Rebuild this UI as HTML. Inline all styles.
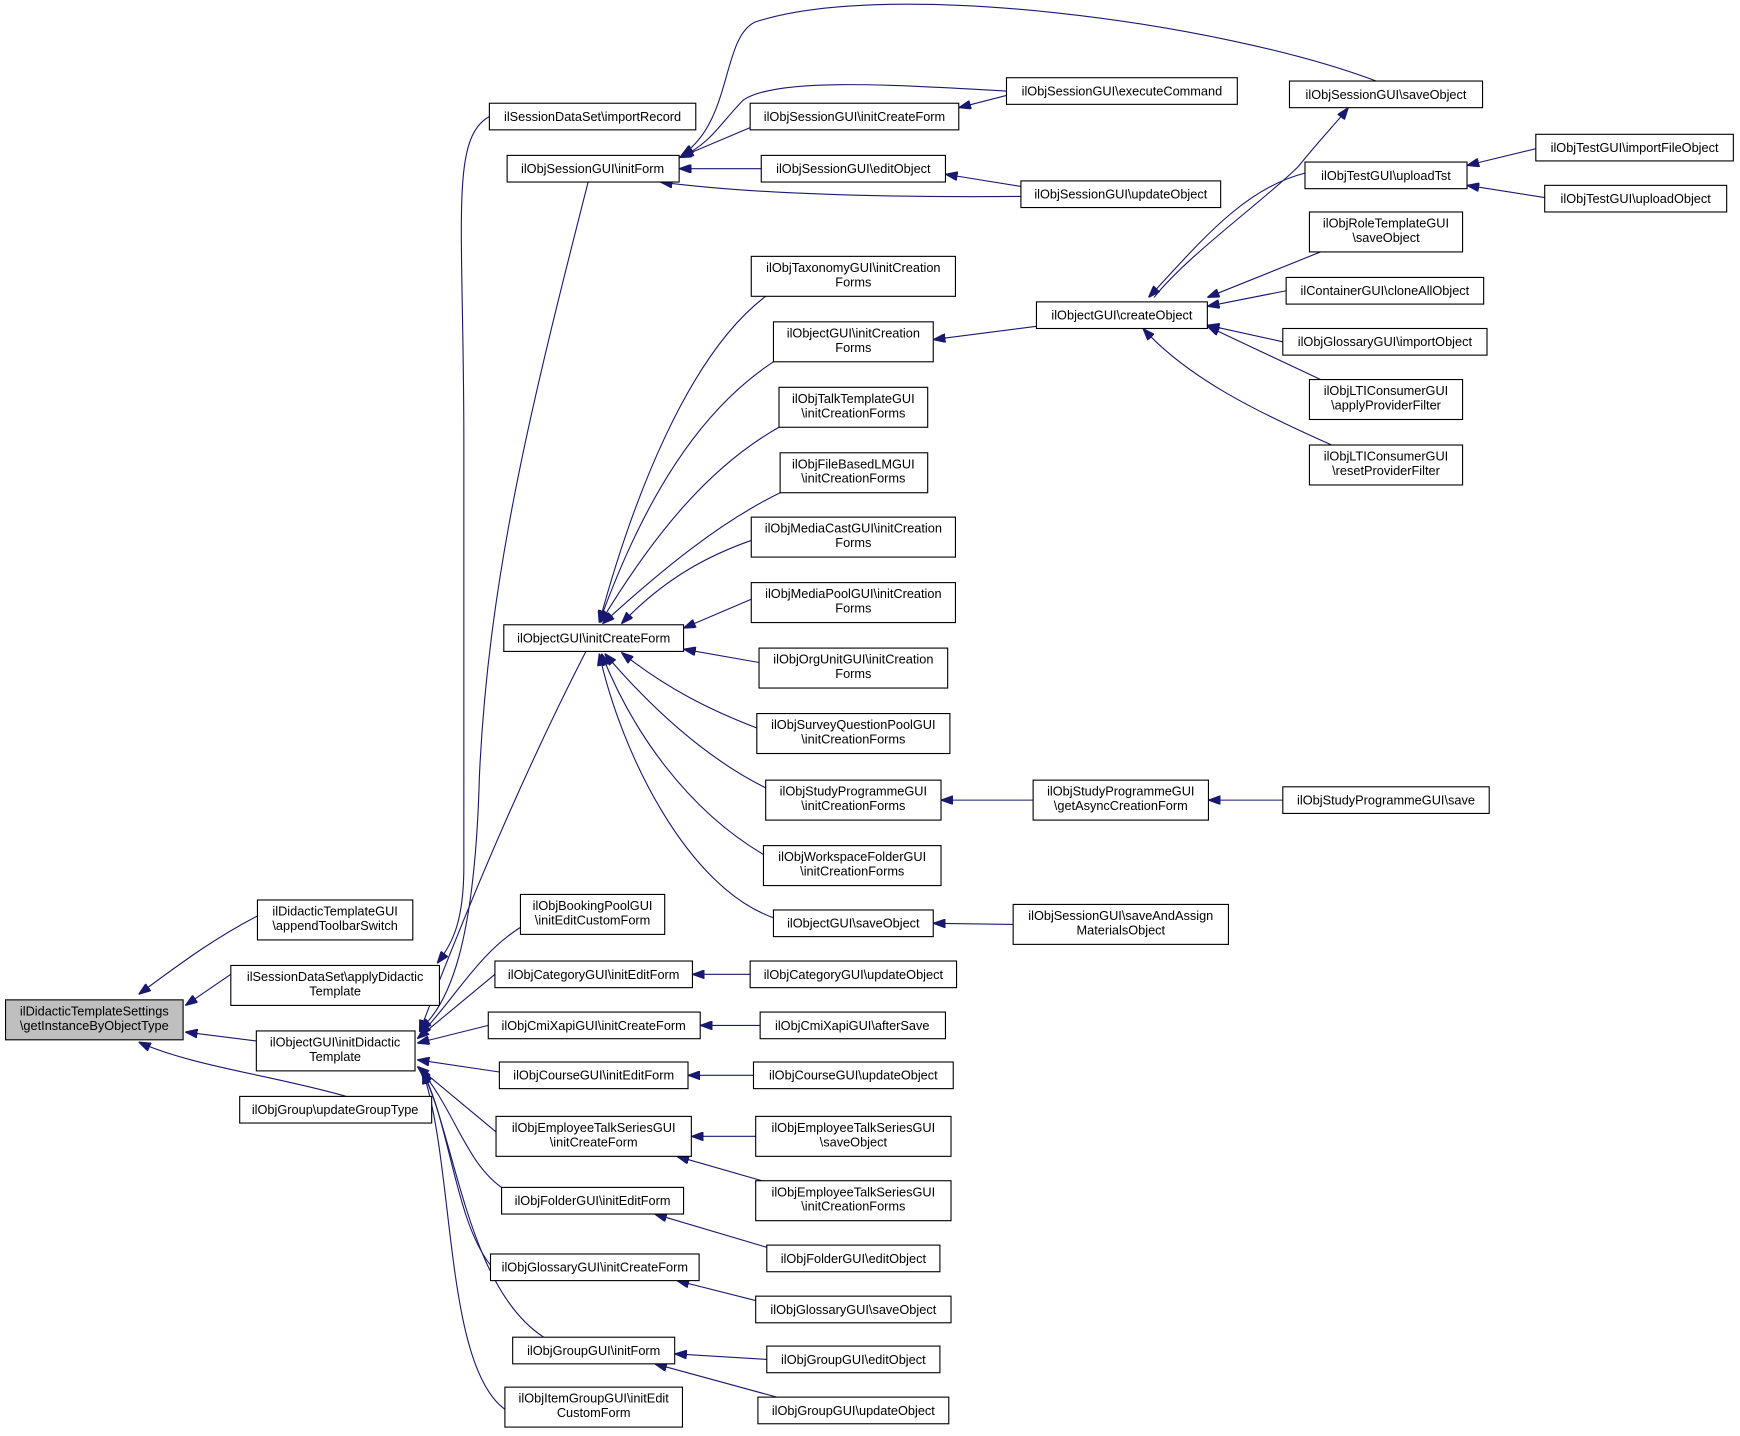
<!DOCTYPE html>
<html><head><meta charset="utf-8"><style>
html,body{margin:0;padding:0;background:#fff;}
svg{display:block}
text{font-family:"Liberation Sans",sans-serif;font-size:11.5px;fill:#000}
rect{fill:#fff;stroke:#000;stroke-width:1}
path{fill:none;stroke:#191970;stroke-width:1}
</style></head><body>
<svg width="1740" height="1436" viewBox="0 0 1568 1294" xmlns="http://www.w3.org/2000/svg">
<defs><marker id="a" markerWidth="11" markerHeight="8" refX="11" refY="4" orient="auto" markerUnits="userSpaceOnUse"><path d="M0,0 L11,4 L0,8 z" style="fill:#191970;stroke:#191970"/></marker></defs>
<g marker-end="url(#a)">
<path d="M243,820 C200,840 160,870 125,896"/>
<path d="M208,878 L167,906"/>
<path d="M231,938 L167,930"/>
<path d="M312,988 C250,970 170,960 125,939"/>
<path d="M441,105 C405,125 418,200 418,400 L418,780 C418,830 408,850 394,868"/>
<path d="M530,164 C480,360 440,520 432,700 C428,850 405,905 378,928"/>
<path d="M528,587 C470,700 420,820 378,930"/>
<path d="M470,835 C430,860 410,900 378,933"/>
<path d="M446,878 L376,936"/>
<path d="M440,924 L376,940"/>
<path d="M450,966 L376,955"/>
<path d="M447,1020 L376,961"/>
<path d="M455,1072 C420,1050 410,1000 378,963"/>
<path d="M442,1140 C410,1100 405,1010 380,964"/>
<path d="M490,1205 C420,1160 410,1020 380,965"/>
<path d="M455,1270 C400,1230 410,1050 381,966"/>
<path d="M1240,73 C1100,20 800,-20 680,20 C650,35 660,110 614,140"/>
<path d="M907,82 C800,76 700,70 670,90 C650,110 640,130 614,141"/>
<path d="M676,115 L612,142"/>
<path d="M686,152 L612,152"/>
<path d="M920,177 C800,178 680,175 595,164"/>
<path d="M907,86 L864,97"/>
<path d="M920,168 L852,157"/>
<path d="M1040,268 C1070,230 1140,180 1170,150 C1190,125 1205,110 1215,97"/>
<path d="M1176,156 C1120,170 1080,220 1035,268"/>
<path d="M1190,227 L1088,268"/>
<path d="M1159,262 L1088,276"/>
<path d="M1156,308 L1088,293"/>
<path d="M1190,342 L1088,294"/>
<path d="M1200,401 C1130,370 1070,340 1030,296"/>
<path d="M1384,134 L1322,149"/>
<path d="M1392,178 L1322,167"/>
<path d="M934,294 L841,306"/>
<path d="M690,267 C620,320 570,450 540,561"/>
<path d="M697,326 C630,370 580,450 540,561"/>
<path d="M702,385 C640,420 590,480 541,561"/>
<path d="M703,444 C650,470 600,510 543,562"/>
<path d="M677,487 C640,500 600,520 560,562"/>
<path d="M677,540 L616,566"/>
<path d="M684,597 L616,585"/>
<path d="M682,656 C640,640 600,620 560,588"/>
<path d="M690,710 C630,680 580,630 545,589"/>
<path d="M688,770 C620,730 570,660 542,589"/>
<path d="M697,827 C620,800 560,680 540,589"/>
<path d="M931,721 L848,721"/>
<path d="M1156,721 L1089,721"/>
<path d="M913,833 L841,832"/>
<path d="M676,878 L624,878"/>
<path d="M685,924 L631,924"/>
<path d="M679,969 L620,969"/>
<path d="M681,1024 L623,1024"/>
<path d="M690,1065 L610,1042"/>
<path d="M691,1124 L590,1094"/>
<path d="M681,1172 L610,1154"/>
<path d="M691,1225 L608,1220"/>
<path d="M700,1259 L590,1229"/>
</g>
<g>
<rect x="5" y="901" width="160" height="36" style="fill:#bfbfbf"/><text x="85" y="915" text-anchor="middle">ilDidacticTemplateSettings</text><text x="85" y="928" text-anchor="middle">\getInstanceByObjectType</text>
<rect x="232" y="811" width="140" height="36"/><text x="302" y="825" text-anchor="middle">ilDidacticTemplateGUI</text><text x="302" y="838" text-anchor="middle">\appendToolbarSwitch</text>
<rect x="208" y="870" width="188" height="36"/><text x="302" y="884" text-anchor="middle">ilSessionDataSet\applyDidactic</text><text x="302" y="897" text-anchor="middle">Template</text>
<rect x="231" y="929" width="143" height="36"/><text x="302" y="943" text-anchor="middle">ilObjectGUI\initDidactic</text><text x="302" y="956" text-anchor="middle">Template</text>
<rect x="216" y="988" width="173" height="24"/><text x="302" y="1004" text-anchor="middle">ilObjGroup\updateGroupType</text>

<rect x="441" y="93" width="186" height="24"/><text x="534" y="109" text-anchor="middle">ilSessionDataSet\importRecord</text>
<rect x="457" y="140" width="155" height="24"/><text x="534" y="156" text-anchor="middle">ilObjSessionGUI\initForm</text>
<rect x="454" y="563" width="162" height="24"/><text x="535" y="579" text-anchor="middle">ilObjectGUI\initCreateForm</text>
<rect x="469" y="806" width="130" height="36"/><text x="534" y="820" text-anchor="middle">ilObjBookingPoolGUI</text><text x="534" y="833" text-anchor="middle">\initEditCustomForm</text>
<rect x="446" y="866" width="178" height="24"/><text x="535" y="882" text-anchor="middle">ilObjCategoryGUI\initEditForm</text>
<rect x="440" y="912" width="191" height="24"/><text x="535" y="928" text-anchor="middle">ilObjCmiXapiGUI\initCreateForm</text>
<rect x="450" y="957" width="170" height="24"/><text x="535" y="973" text-anchor="middle">ilObjCourseGUI\initEditForm</text>
<rect x="447" y="1006" width="176" height="36"/><text x="535" y="1020" text-anchor="middle">ilObjEmployeeTalkSeriesGUI</text><text x="535" y="1033" text-anchor="middle">\initCreateForm</text>
<rect x="452" y="1070" width="164" height="24"/><text x="534" y="1086" text-anchor="middle">ilObjFolderGUI\initEditForm</text>
<rect x="442" y="1130" width="188" height="24"/><text x="536" y="1146" text-anchor="middle">ilObjGlossaryGUI\initCreateForm</text>
<rect x="462" y="1205" width="146" height="24"/><text x="535" y="1221" text-anchor="middle">ilObjGroupGUI\initForm</text>
<rect x="455" y="1250" width="160" height="36"/><text x="535" y="1264" text-anchor="middle">ilObjItemGroupGUI\initEdit</text><text x="535" y="1277" text-anchor="middle">CustomForm</text>

<rect x="676" y="93" width="188" height="24"/><text x="770" y="109" text-anchor="middle">ilObjSessionGUI\initCreateForm</text>
<rect x="686" y="140" width="166" height="24"/><text x="769" y="156" text-anchor="middle">ilObjSessionGUI\editObject</text>
<rect x="677" y="231" width="184" height="36"/><text x="769" y="245" text-anchor="middle">ilObjTaxonomyGUI\initCreation</text><text x="769" y="258" text-anchor="middle">Forms</text>
<rect x="697" y="290" width="144" height="36"/><text x="769" y="304" text-anchor="middle">ilObjectGUI\initCreation</text><text x="769" y="317" text-anchor="middle">Forms</text>
<rect x="702" y="349" width="134" height="36"/><text x="769" y="363" text-anchor="middle">ilObjTalkTemplateGUI</text><text x="769" y="376" text-anchor="middle">\initCreationForms</text>
<rect x="703" y="408" width="133" height="36"/><text x="769" y="422" text-anchor="middle">ilObjFileBasedLMGUI</text><text x="769" y="435" text-anchor="middle">\initCreationForms</text>
<rect x="677" y="466" width="184" height="36"/><text x="769" y="480" text-anchor="middle">ilObjMediaCastGUI\initCreation</text><text x="769" y="493" text-anchor="middle">Forms</text>
<rect x="677" y="525" width="184" height="36"/><text x="769" y="539" text-anchor="middle">ilObjMediaPoolGUI\initCreation</text><text x="769" y="552" text-anchor="middle">Forms</text>
<rect x="684" y="584" width="170" height="36"/><text x="769" y="598" text-anchor="middle">ilObjOrgUnitGUI\initCreation</text><text x="769" y="611" text-anchor="middle">Forms</text>
<rect x="682" y="643" width="174" height="36"/><text x="769" y="657" text-anchor="middle">ilObjSurveyQuestionPoolGUI</text><text x="769" y="670" text-anchor="middle">\initCreationForms</text>
<rect x="690" y="703" width="158" height="36"/><text x="769" y="717" text-anchor="middle">ilObjStudyProgrammeGUI</text><text x="769" y="730" text-anchor="middle">\initCreationForms</text>
<rect x="688" y="762" width="160" height="36"/><text x="768" y="776" text-anchor="middle">ilObjWorkspaceFolderGUI</text><text x="768" y="789" text-anchor="middle">\initCreationForms</text>
<rect x="697" y="820" width="144" height="24"/><text x="769" y="836" text-anchor="middle">ilObjectGUI\saveObject</text>
<rect x="676" y="866" width="186" height="24"/><text x="769" y="882" text-anchor="middle">ilObjCategoryGUI\updateObject</text>
<rect x="685" y="912" width="167" height="24"/><text x="768" y="928" text-anchor="middle">ilObjCmiXapiGUI\afterSave</text>
<rect x="679" y="957" width="180" height="24"/><text x="769" y="973" text-anchor="middle">ilObjCourseGUI\updateObject</text>
<rect x="681" y="1006" width="176" height="36"/><text x="769" y="1020" text-anchor="middle">ilObjEmployeeTalkSeriesGUI</text><text x="769" y="1033" text-anchor="middle">\saveObject</text>
<rect x="681" y="1064" width="176" height="36"/><text x="769" y="1078" text-anchor="middle">ilObjEmployeeTalkSeriesGUI</text><text x="769" y="1091" text-anchor="middle">\initCreationForms</text>
<rect x="691" y="1122" width="156" height="24"/><text x="769" y="1138" text-anchor="middle">ilObjFolderGUI\editObject</text>
<rect x="681" y="1168" width="176" height="24"/><text x="769" y="1184" text-anchor="middle">ilObjGlossaryGUI\saveObject</text>
<rect x="691" y="1213" width="156" height="24"/><text x="769" y="1229" text-anchor="middle">ilObjGroupGUI\editObject</text>
<rect x="683" y="1259" width="172" height="24"/><text x="769" y="1275" text-anchor="middle">ilObjGroupGUI\updateObject</text>

<rect x="907" y="70" width="208" height="24"/><text x="1011" y="86" text-anchor="middle">ilObjSessionGUI\executeCommand</text>
<rect x="920" y="163" width="180" height="24"/><text x="1010" y="179" text-anchor="middle">ilObjSessionGUI\updateObject</text>
<rect x="934" y="272" width="154" height="24"/><text x="1011" y="288" text-anchor="middle">ilObjectGUI\createObject</text>
<rect x="931" y="703" width="158" height="36"/><text x="1010" y="717" text-anchor="middle">ilObjStudyProgrammeGUI</text><text x="1010" y="730" text-anchor="middle">\getAsyncCreationForm</text>
<rect x="913" y="815" width="194" height="36"/><text x="1010" y="829" text-anchor="middle">ilObjSessionGUI\saveAndAssign</text><text x="1010" y="842" text-anchor="middle">MaterialsObject</text>

<rect x="1162" y="73" width="174" height="24"/><text x="1249" y="89" text-anchor="middle">ilObjSessionGUI\saveObject</text>
<rect x="1176" y="146" width="146" height="24"/><text x="1249" y="162" text-anchor="middle">ilObjTestGUI\uploadTst</text>
<rect x="1180" y="191" width="138" height="36"/><text x="1249" y="205" text-anchor="middle">ilObjRoleTemplateGUI</text><text x="1249" y="218" text-anchor="middle">\saveObject</text>
<rect x="1159" y="250" width="178" height="24"/><text x="1248" y="266" text-anchor="middle">ilContainerGUI\cloneAllObject</text>
<rect x="1156" y="296" width="184" height="24"/><text x="1248" y="312" text-anchor="middle">ilObjGlossaryGUI\importObject</text>
<rect x="1180" y="342" width="138" height="36"/><text x="1249" y="356" text-anchor="middle">ilObjLTIConsumerGUI</text><text x="1249" y="369" text-anchor="middle">\applyProviderFilter</text>
<rect x="1180" y="401" width="138" height="36"/><text x="1249" y="415" text-anchor="middle">ilObjLTIConsumerGUI</text><text x="1249" y="428" text-anchor="middle">\resetProviderFilter</text>
<rect x="1156" y="709" width="186" height="24"/><text x="1249" y="725" text-anchor="middle">ilObjStudyProgrammeGUI\save</text>

<rect x="1384" y="121" width="178" height="24"/><text x="1473" y="137" text-anchor="middle">ilObjTestGUI\importFileObject</text>
<rect x="1392" y="167" width="164" height="24"/><text x="1474" y="183" text-anchor="middle">ilObjTestGUI\uploadObject</text>
</g>
</svg>
</body></html>
